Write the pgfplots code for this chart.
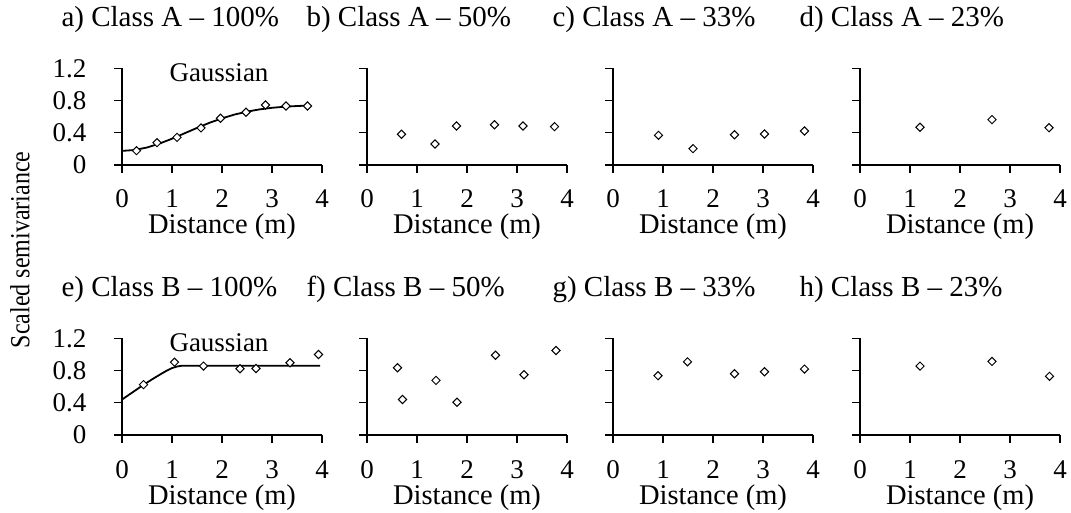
\documentclass[border=0pt]{standalone}
\usepackage{fontspec}
\setmainfont{Liberation Serif}
\usepackage{graphicx}
\usepackage{pgfplots}
\pgfplotsset{compat=1.18}
\newcommand\fs{\fontsize{27}{32}\selectfont}
\newcommand\ls{\fontsize{28.5}{34}\selectfont}
\newcommand\ts{\fontsize{29}{34}\selectfont}
\pgfplotsset{
 semi/.style={
  scale only axis, width=200pt, height=96.7pt,
  xmin=0,xmax=4,ymin=0,ymax=1.2,
  axis x line*=bottom, axis y line*=left,
  xtick={0,1,2,3,4}, ytick={0,0.4,0.8,1.2},
  tick align=outside, major tick length=8pt,
  every tick/.style={black, line width=1.2pt},
  axis line style={black, line width=1.2pt},
  /pgf/number format/assume math mode=true,
  tick label style={font=\fs},
  xticklabel style={anchor=base, yshift=-35pt},
  yticklabel style={xshift=-24pt},
  xlabel={Distance (m)},
  xlabel style={font=\ls, at={(axis description cs:0.5,0)}, anchor=base, yshift=-69pt},
  clip=false,
  title style={font=\ts, at={(axis description cs:0,1)}, anchor=base west, xshift=-64pt, yshift=35.6pt},
 },
 noylab/.style={yticklabels={}},
 pts/.style={only marks, mark=square*, mark size=2.9pt, mark options={rotate=45, fill=white, draw=black, line width=1pt}},
 fit/.style={no marks, black, line width=1.8pt},
}
\begin{document}
\begin{tikzpicture}
\useasboundingbox (0pt,0pt) rectangle (1071pt,512pt);
\node[rotate=90] at (20pt,262pt) {\scalebox{1}[1.15]{\fontsize{24}{28}\selectfont Scaled semivariance}};
% a
\begin{axis}[semi, at={(122pt,347pt)}, anchor=south west, title={a) Class A -- 100\%}]
\addplot[fit] coordinates {(0,0.175) (0.25,0.186) (0.5,0.217) (0.75,0.266) (1.0,0.326) (1.25,0.393) (1.5,0.460) (1.75,0.524) (2.0,0.579) (2.25,0.626) (2.5,0.662) (2.75,0.690) (3.0,0.710) (3.25,0.723) (3.5,0.732) (3.76,0.738)};
\addplot[pts] coordinates {(0.29,0.178) (0.70,0.277) (1.10,0.343) (1.58,0.46) (1.97,0.58) (2.48,0.654) (2.87,0.745) (3.28,0.732) (3.71,0.732)};
\node[font=\fontsize{27}{32}\selectfont, anchor=base] at (axis cs:1.94,1.03) {Gaussian};
\end{axis}
% b
\begin{axis}[semi, noylab, at={(367pt,347pt)}, anchor=south west, title={b) Class A -- 50\%}]
\addplot[pts] coordinates {(0.69,0.381) (1.36,0.26) (1.79,0.484) (2.55,0.50) (3.12,0.484) (3.75,0.476)};
\end{axis}
% c
\begin{axis}[semi, noylab, at={(613pt,347pt)}, anchor=south west, title={c) Class A -- 33\%}]
\addplot[pts] coordinates {(0.91,0.368) (1.6,0.203) (2.43,0.376) (3.03,0.385) (3.83,0.422)};
\end{axis}
% d
\begin{axis}[semi, noylab, at={(860pt,347pt)}, anchor=south west, title={d) Class A -- 23\%}]
\addplot[pts] coordinates {(1.2,0.468) (2.64,0.563) (3.78,0.463)};
\end{axis}
% e
\begin{axis}[semi, at={(122pt,77pt)}, anchor=south west, title={e) Class B -- 100\%}]
\addplot[fit] coordinates {(0,0.44) (0.2,0.525) (0.4,0.61) (0.6,0.69) (0.8,0.765) (0.9,0.80) (1.0,0.83) (1.1,0.85) (1.2,0.86) (3.96,0.86)};
\addplot[pts] coordinates {(0.43,0.625) (1.05,0.904) (1.63,0.855) (2.36,0.822) (2.68,0.825) (3.36,0.896) (3.93,0.999)};
\node[font=\fontsize{27}{32}\selectfont, anchor=base] at (axis cs:1.94,1.036) {Gaussian};
\end{axis}
% f
\begin{axis}[semi, noylab, at={(367pt,77pt)}, anchor=south west, title={f) Class B -- 50\%}]
\addplot[pts] coordinates {(0.61,0.834) (0.71,0.44) (1.38,0.678) (1.8,0.407) (2.57,0.99) (3.14,0.748) (3.78,1.048)};
\end{axis}
% g
\begin{axis}[semi, noylab, at={(613pt,77pt)}, anchor=south west, title={g) Class B -- 33\%}]
\addplot[pts] coordinates {(0.9,0.736) (1.49,0.908) (2.43,0.76) (3.03,0.785) (3.83,0.818)};
\end{axis}
% h
\begin{axis}[semi, noylab, at={(860pt,77pt)}, anchor=south west, title={h) Class B -- 23\%}]
\addplot[pts] coordinates {(1.2,0.855) (2.64,0.913) (3.79,0.728)};
\end{axis}
\end{tikzpicture}
\end{document}
